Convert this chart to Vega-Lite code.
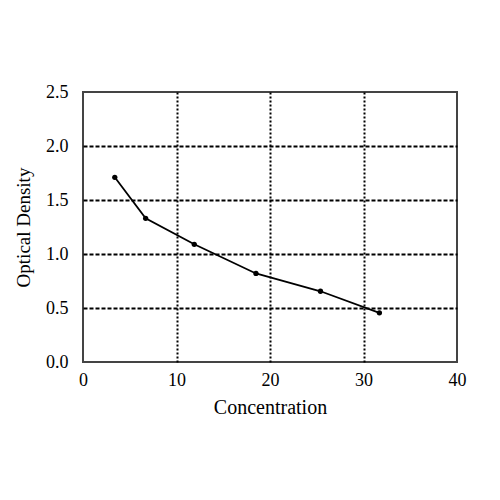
{
  "$schema": "https://vega.github.io/schema/vega-lite/v6.json",
  "autosize": "none",
  "width": 374,
  "height": 270,
  "padding": {"left": 83, "top": 92, "right": 43, "bottom": 138},
  "background": "white",
  "config": {
    "view": {"stroke": "#444", "strokeWidth": 2},
    "font": "Liberation Serif"
  },
  "data": {
    "values": [
      {"conc": 3.4, "od": 1.71},
      {"conc": 6.7, "od": 1.33},
      {"conc": 11.9, "od": 1.09},
      {"conc": 18.5, "od": 0.82},
      {"conc": 25.4, "od": 0.655},
      {"conc": 31.7, "od": 0.455}
    ]
  },
  "mark": {"type": "line", "color": "black", "strokeWidth": 1.8, "point": {"filled": true, "color": "black", "size": 28}},
  "encoding": {
    "x": {
      "field": "conc", "type": "quantitative", "title": "Concentration",
      "scale": {"domain": [0, 40], "nice": false},
      "axis": {
        "values": [0, 10, 20, 30, 40], "format": "d", "domain": false, "ticks": false, "labelFlush": false,
        "labelPadding": 9, "labelFontSize": 18, "labelColor": "black", "labelFont": "Liberation Serif",
        "titleFontSize": 20, "titleFontWeight": "normal", "titleColor": "black", "titleFont": "Liberation Serif", "titlePadding": 8,
        "grid": true, "gridColor": "black", "gridWidth": 2, "gridDash": [2, 2],
        "gridOpacity": {"condition": {"test": "datum.value == 0 || datum.value == 40", "value": 0}, "value": 1}
      }
    },
    "y": {
      "field": "od", "type": "quantitative", "title": "Optical Density",
      "scale": {"domain": [0, 2.5], "nice": false},
      "axis": {
        "values": [0, 0.5, 1, 1.5, 2, 2.5], "format": ".1f", "domain": false, "ticks": false, "labelFlush": false,
        "labelPadding": 15, "labelFontSize": 18, "labelColor": "black", "labelFont": "Liberation Serif",
        "titleFontSize": 19, "titleFontWeight": "normal", "titleColor": "black", "titleFont": "Liberation Serif", "titlePadding": 12,
        "grid": true, "gridColor": "black", "gridWidth": 2, "gridDash": [4, 2],
        "gridOpacity": {"condition": {"test": "datum.value == 0 || datum.value == 2.5", "value": 0}, "value": 1}
      }
    }
  }
}
